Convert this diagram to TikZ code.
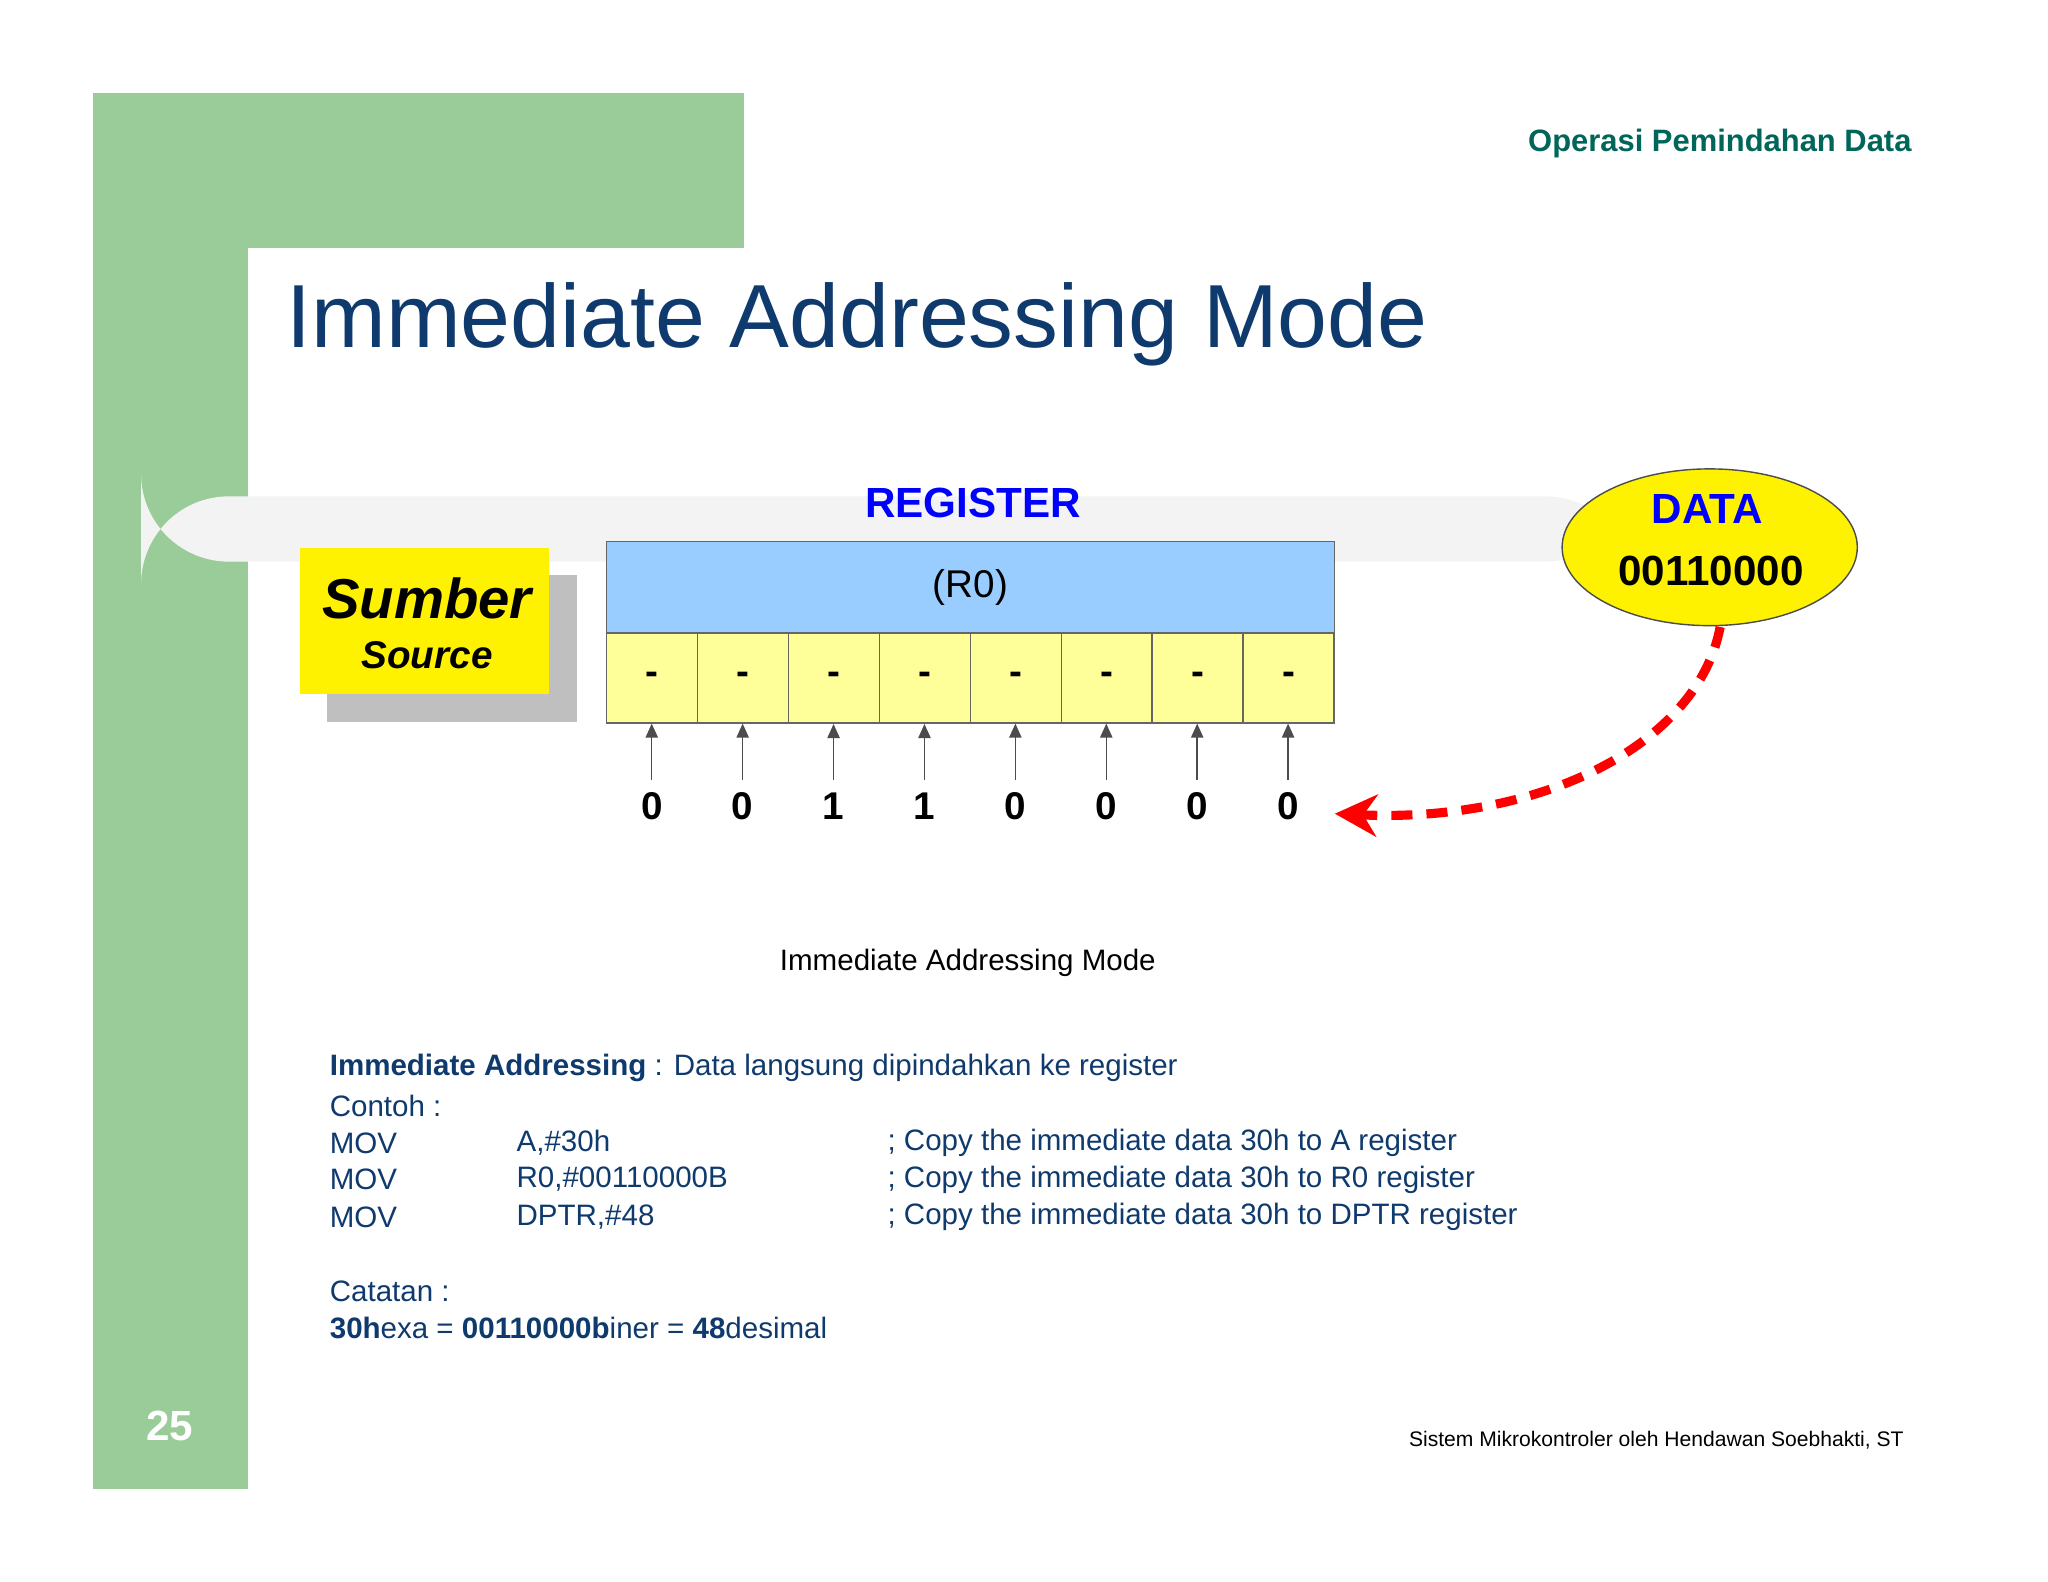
\documentclass[tikz,border=0pt]{standalone}
\usepackage{fontspec}
\setmainfont{Liberation Sans}
\usetikzlibrary{arrows.meta,shapes.geometric}
\definecolor{gr}{HTML}{99CC99}
\definecolor{navy}{HTML}{0F3A6E}
\definecolor{teal}{HTML}{00665A}
\definecolor{regblue}{HTML}{99CCFF}
\definecolor{cellyel}{HTML}{FFFF99}
\definecolor{bar}{HTML}{F3F3F3}
\tikzset{cell/.style={draw=black!60,fill=cellyel,minimum width=69.6*0.01306cm,minimum height=69*0.01306cm,inner sep=0,font=\fontsize{11}{12}\selectfont\bfseries},
bit/.style={font=\fontsize{11}{12}\selectfont\bfseries},
body/.style={anchor=west,inner sep=0,text=navy,font=\fontsize{8.4}{10}\selectfont},
up/.style={-{Triangle[length=4pt,width=3.5pt]},black!70,line width=0.4pt}}
\begin{document}
\begin{tikzpicture}[x=0.01306cm,y=-0.01306cm]
\useasboundingbox (0,0) rectangle (1568,1211);
\fill[white] (0,0) rectangle (1568,1211);
\fill[gr] (71,71) rectangle (190,1140);
\fill[gr] (71,71) rectangle (570,190);
\fill[white,rounded corners=40] (190,190) rectangle (700,400);
\fill[bar,rounded corners=25] (108,380) rectangle (1250,430);
\node[anchor=west,text=navy,font=\fontsize{25.5}{28}\selectfont] (title) at (210,248) {Immediate Addressing Mode};
\node[anchor=east,text=teal,font=\fontsize{8.8}{10}\selectfont\bfseries] (top) at (1473,110) {Operasi Pemindahan Data};
% Sumber
\fill[black!25] (250,440) rectangle (442,553);
\node[fill=yellow,minimum width=191*0.01306cm,minimum height=112*0.01306cm,anchor=north west,inner sep=0] (src) at (229,419) {};
\node[font=\fontsize{16}{18}\selectfont\bfseries\itshape] (sumber) at (327,458) {Sumber};
\node[font=\fontsize{11}{12}\selectfont\bfseries\itshape] (source) at (327,502) {Source};
% register
\node[draw=black!60,fill=regblue,minimum width=557*0.01306cm,minimum height=70*0.01306cm,anchor=north west,inner sep=0,font=\fontsize{11}{12}\selectfont] (reg) at (464,414) {(R0)};
\node[text=blue,font=\fontsize{12}{14}\selectfont\bfseries] (reglbl) at (745,385) {REGISTER};
\foreach \i/\b in {0/0,1/0,2/1,3/1,4/0,5/0,6/0,7/0}{
  \node[cell,anchor=north west] (c\i) at (464+\i*69.6,484) {-};
  \node[bit] (b\i) at (499+\i*69.6,617) {\b};
  \draw[up] (b\i.north) -- ++(0,-43);
}
% data
\node[ellipse,draw=black!70,fill=yellow,minimum width=226*0.01306cm,minimum height=120*0.01306cm] (data) at (1309,419) {};
\node[text=blue,font=\fontsize{12}{14}\selectfont\bfseries] (dl) at (1307,390) {DATA};
\node[font=\fontsize{12}{14}\selectfont\bfseries] (dv) at (1310,437) {00110000};
\draw[red,line width=2.6pt,dash pattern=on 6pt off 4pt,-{Stealth[length=12pt,width=12pt]}] (1317,480) .. controls (1300,570) and (1180,630) .. (1022,623);
\node[font=\fontsize{8.4}{10}\selectfont] (cap) at (741,737) {Immediate Addressing Mode};
% text
\node[body] (l1) at (252,818) {\textbf{Immediate Addressing} : Data langsung dipindahkan ke register};
\node[body] (l2) at (252,847) {Contoh :};
\node[body] (m1) at (252,875) {MOV};
\node[body] (m2) at (252,903) {MOV};
\node[body] (m3) at (252,932) {MOV};
\node[body] (o1) at (395,875) {A,\#30h};
\node[body] (o2) at (395,903) {R0,\#00110000B};
\node[body] (o3) at (395,932) {DPTR,\#48};
\node[body] (k1) at (679,875) {; Copy the immediate data 30h to A register};
\node[body] (k2) at (679,903) {; Copy the immediate data 30h to R0 register};
\node[body] (k3) at (679,932) {; Copy the immediate data 30h to DPTR register};
\node[body] (n1) at (252,989) {Catatan :};
\node[body] (n2) at (252,1017) {\textbf{30h}exa = \textbf{00110000b}iner = \textbf{48}desimal};
\node[text=white,font=\fontsize{12}{14}\selectfont\bfseries] (pg) at (130,1092) {25};
\node[anchor=east,inner sep=0,font=\fontsize{6}{7}\selectfont] (foot) at (1458,1103) {Sistem Mikrokontroler oleh Hendawan Soebhakti, ST};
\end{tikzpicture}
\end{document}
